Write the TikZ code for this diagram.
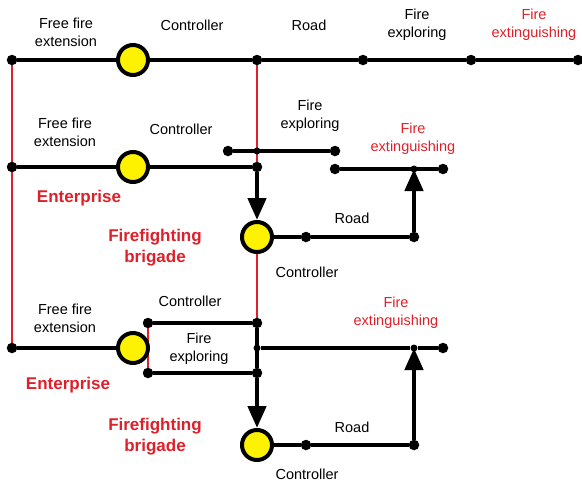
\documentclass[tikz,border=0pt]{standalone}
\usepackage{fontspec}
\setmainfont{Liberation Sans}
\usetikzlibrary{arrows.meta}
\definecolor{firered}{RGB}{222,32,42}
\pgfdeclarelayer{background}
\pgfsetlayers{background,main}
\begin{document}
\begin{tikzpicture}[x=1pt,y=-1pt,
    ctrl/.style={circle,draw=black,line width=4pt,fill=yellow,minimum size=30pt,inner sep=0pt},
    dot/.style={circle,fill=black,minimum size=10.5pt,inner sep=0pt},
    sdot/.style={circle,fill=black,minimum size=7pt,inner sep=0pt},
    lbl/.style={font=\fontsize{14.5}{18}\selectfont,align=center},
    rlbl/.style={lbl,text=firered},
    org/.style={font=\fontsize{17}{21}\selectfont\bfseries,text=firered,align=center},
    wire/.style={line width=3.6pt},
    redwire/.style={firered,line width=2.4pt},
    flow/.style={line width=4.5pt,-{Triangle[length=22pt,width=18pt]}}]
        \useasboundingbox (0,0) rectangle (582,482);
        % Top chain
        \node[dot] (a1) at (12,60) {};
        \node[ctrl] (c1) at (133,60) {};
        \node[dot] (a2) at (257,60) {};
        \node[dot] (a3) at (363,60) {};
        \node[dot] (a4) at (471,60) {};
        \node[dot] (a5) at (578,60) {};
        % Middle chain
        \node[dot] (b1) at (12,167) {};
        \node[ctrl] (c2) at (133,167) {};
        \node[dot] (b2) at (257,167) {};
        \node[dot] (e1) at (228,151) {};
        \node[sdot] (e2) at (257,151) {};
        \node[dot] (e3) at (335,151) {};
        \node[dot] (f1) at (335,169) {};
        \node[sdot] (f2) at (414,169) {};
        \node[dot] (f3) at (443,169) {};
        \node[ctrl] (c3) at (257,237) {};
        \node[dot] (g1) at (306,237) {};
        \node[dot] (g2) at (414,237) {};
        % Bottom chain
        \node[dot] (h1) at (12,348) {};
        \node[ctrl] (c4) at (133,348) {};
        \node[dot] (k1) at (148,323) {};
        \node[dot] (k2) at (257,323) {};
        \node[dot] (k3) at (148,373) {};
        \node[dot] (k4) at (257,373) {};
        \node[sdot] (k5) at (257,348) {};
        \node[sdot] (m1) at (414,348) {};
        \node[dot] (m2) at (443,348) {};
        \node[ctrl] (c5) at (257,445) {};
        \node[dot] (n1) at (306,445) {};
        \node[dot] (n2) at (414,445) {};
        \begin{pgfonlayer}{background}
          % Red links
          \draw[redwire] (a1) -- (b1) -- (h1);
          \draw[redwire] (a2) -- (b2);
          \draw[redwire] (c3) -- (k2);
          \draw[redwire] (k1) -- (k3);
          % Black links
          \draw[wire] (a1) -- (c1) -- (a2) -- (a3) -- (a4) -- (a5);
          \draw[wire] (b1) -- (c2) -- (b2);
          \draw[wire] (e1) -- (e3);
          \draw[wire] (f1) -- (f3);
          \draw[wire] (c3) -- (g1) -- (g2);
          \draw[wire] (h1) -- (c4);
          \draw[wire] (k1) -- (k2);
          \draw[wire] (k3) -- (k4);
          \draw[wire] (k5) -- (m1) -- (m2);
          \draw[line width=4.5pt] (k2) -- (k4);
          \draw[wire] (c5) -- (n1) -- (n2);
          % Flows
          \draw[flow] (b2) -- (c3);
          \draw[flow] (g2) -- (f2.center);
          \draw[flow] (k4) -- (c5);
          \draw[flow] (n2) -- (m1.center);
        \end{pgfonlayer}
        % Labels
        \node[lbl] (t1) at (66,32) {Free fire\\extension};
        \node[lbl] (t2) at (192,25) {Controller};
        \node[lbl] (t3) at (309,25) {Road};
        \node[lbl] (t4) at (417,25) {Fire\\exploring};
        \node[rlbl] (t5) at (534,25) {Fire\\extinguishing};
        \node[lbl] (u1) at (65,132) {Free fire\\extension};
        \node[lbl] (u2) at (181,129) {Controller};
        \node[lbl] (u3) at (310,116) {Fire\\exploring};
        \node[rlbl] (u4) at (413,139) {Fire\\extinguishing};
        \node[org] (u5) at (79,198) {Enterprise};
        \node[org] (u6) at (155,248) {Firefighting\\brigade};
        \node[lbl] (u7) at (352,218) {Road};
        \node[lbl] (u8) at (307,272) {Controller};
        \node[lbl] (v1) at (190,301) {Controller};
        \node[lbl] (v2) at (65,318) {Free fire\\extension};
        \node[lbl] (v3) at (199,349) {Fire\\exploring};
        \node[rlbl] (v4) at (396,313) {Fire\\extinguishing};
        \node[org] (v5) at (68,385) {Enterprise};
        \node[org] (v6) at (155,437) {Firefighting\\brigade};
        \node[lbl] (v7) at (352,427) {Road};
        \node[lbl] (v8) at (307,474) {Controller};
      \end{tikzpicture}
\end{document}
